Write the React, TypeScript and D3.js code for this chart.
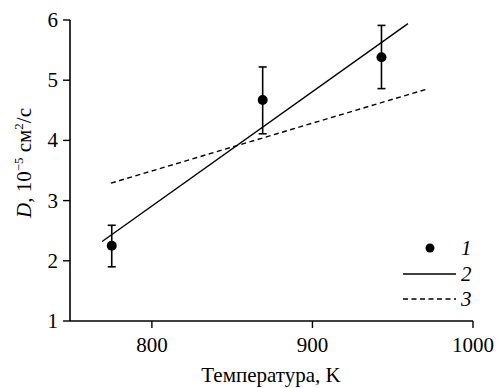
import React from 'react';
import * as d3 from 'd3';

// measured points (1)
const temps = [775, 869, 943];
const dValues = [2.25, 4.67, 5.38];
const errLow = [1.9, 4.11, 4.86];
const errHigh = [2.59, 5.22, 5.91];

// fitted line (2) and model line (3)
const fitLine: [number, number][] = [[769, 2.32], [959.5, 5.94]];
const modelLine: [number, number][] = [[774.5, 3.29], [971, 4.85]];

const xTicks = [800, 900, 1000];
const yTicks = [1, 2, 3, 4, 5, 6];
const legendLabels = ['1', '2', '3'];

const txt = { fontFamily: '"Liberation Serif", "Times New Roman", serif', fontSize: 21 };

const App = () => {
  const x = d3.scaleLinear().domain([749, 1000]).range([70, 473]);
  const y = d3.scaleLinear().domain([1, 6]).range([321, 20]);
  const line = d3.line<[number, number]>().x((d) => x(d[0])).y((d) => y(d[1]));
  const x0 = x(749);
  const y0 = y(1);

  return (
    <svg width={497} height={388} style={{ position: 'absolute', left: 0, top: 0 }}>
      {/* axes */}
      <g stroke="#000" strokeWidth={1.6}>
        <line x1={x0} x2={x(1000)} y1={y0} y2={y0} />
        <line x1={x0} x2={x0} y1={y(6)} y2={y0} />
        {xTicks.map((t) => (
          <line key={t} x1={x(t)} x2={x(t)} y1={y0} y2={y0 + 7} strokeWidth={1.4} />
        ))}
        {yTicks.map((t) => (
          <line key={t} x1={x0 - 7} x2={x0} y1={y(t)} y2={y(t)} strokeWidth={1.4} />
        ))}
      </g>
      {xTicks.map((t) => (
        <text key={t} x={x(t)} y={y0 + 31} textAnchor="middle" style={txt}>{t}</text>
      ))}
      {yTicks.map((t) => (
        <text key={t} x={x0 - 12} y={y(t) + 7} textAnchor="end" style={txt}>{t}</text>
      ))}

      {/* lines */}
      <path d={line(fitLine) ?? ''} fill="none" stroke="#000" strokeWidth={1.4} />
      <path d={line(modelLine) ?? ''} fill="none" stroke="#000" strokeWidth={1.4} strokeDasharray="5,3.5" />

      {/* error bars and points */}
      <g stroke="#000" strokeWidth={1.6}>
        {temps.map((t, i) => (
          <g key={t}>
            <line x1={x(t)} x2={x(t)} y1={y(errLow[i])} y2={y(errHigh[i])} />
            <line x1={x(t) - 4} x2={x(t) + 4} y1={y(errLow[i])} y2={y(errLow[i])} />
            <line x1={x(t) - 4} x2={x(t) + 4} y1={y(errHigh[i])} y2={y(errHigh[i])} />
          </g>
        ))}
      </g>
      {temps.map((t, i) => (
        <circle key={t} cx={x(t)} cy={y(dValues[i])} r={5} fill="#000" />
      ))}

      {/* legend */}
      <circle cx={430} cy={248} r={4.5} fill="#000" />
      <line x1={403} x2={456} y1={274} y2={274} stroke="#000" strokeWidth={1.4} />
      <line x1={403} x2={456} y1={299} y2={299} stroke="#000" strokeWidth={1.4} strokeDasharray="5,3.5" />
      {legendLabels.map((l, i) => (
        <text key={l} x={461} y={255 + i * 25.5} style={{ ...txt, fontStyle: 'italic' }}>{l}</text>
      ))}

      {/* axis titles */}
      <text x={271} y={382} textAnchor="middle" style={txt}>Температура, K</text>
      <text transform="translate(31, 163) rotate(-90)" textAnchor="middle" style={txt}>
        <tspan style={{ fontStyle: 'italic' }}>D</tspan>
        <tspan>, 10</tspan>
        <tspan dy={-8} style={{ fontSize: 13 }}>−5</tspan>
        <tspan dy={8}> см</tspan>
        <tspan dy={-8} style={{ fontSize: 13 }}>2</tspan>
        <tspan dy={8}>/с</tspan>
      </text>
    </svg>
  );
};

export default App;
